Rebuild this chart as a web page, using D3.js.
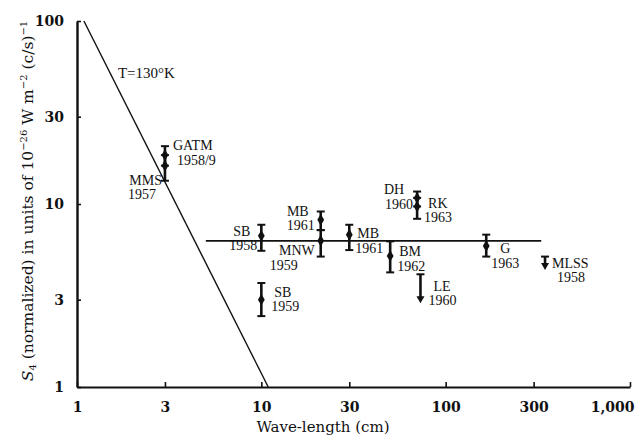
<!DOCTYPE html>
<html>
<head>
<meta charset="utf-8">
<script src="https://cdn.jsdelivr.net/npm/d3@7"></script>
<style>
  body { margin: 0; background: #fff; }
  svg text { fill: #111; }
</style>
</head>
<body>
<div id="chart"></div>
<script>
// measured sources (wave-length in cm, flux in 1e-26 W m^-2 (c/s)^-1)
const sourceNames = ["GATM", "MMS", "SB", "SB", "MB", "MNW", "MB", "BM", "DH", "RK", "G"];
const sourceYears = ["1958/9", "1957", "1958", "1959", "1961", "1959", "1961", "1962", "1960", "1963", "1963"];
const lambda = [3, 3, 10, 10, 21, 21, 30, 50, 70, 70, 166];
const flux = [18.5, 16.2, 6.7, 3.0, 8.2, 6.3, 6.8, 5.2, 10.8, 9.7, 5.9];
const fluxLo = [16.2, 13.4, 5.55, 2.44, 7.2, 5.16, 5.6, 4.23, 9.7, 8.3, 5.16];
const fluxHi = [20.7, 18.5, 7.7, 3.7, 9.1, 7.2, 7.7, 6.25, 11.7, 10.8, 6.8];

// upper limits
const limitNames = ["LE", "MLSS"];
const limitYears = ["1960", "1958"];
const limitLambda = [73, 346];
const limitTop = [4.13, 5.16];
const limitTip = [2.87, 4.36];

// T = 130 K black body line and mean flat line
const tLambda = [1.09, 10.9];
const tFlux = [100, 1];
const meanLambda = [5, 330];
const meanFlux = [6.28, 6.28];

const xTicks = [1, 3, 10, 30, 100, 300, 1000];
const yTicks = [1, 3, 10, 30, 100];

// label placement (pixels from the point): [dx, dy, anchor] for name and year
const labelPos = [
  [[8, -5, "start"], [12, 10, "start"]],
  [[-3, 19, "end"], [-9, 33, "end"]],
  [[-11, 0, "end"], [-4, 14, "end"]],
  [[13, -3, "start"], [10, 11, "start"]],
  [[-12, -4, "end"], [-6, 10, "end"]],
  [[-6, 14, "end"], [-23, 29, "end"]],
  [[8, 3, "start"], [6, 18, "start"]],
  [[9, 0, "start"], [7, 15, "start"]],
  [[-13, -4, "end"], [-4, 11, "end"]],
  [[11, 2, "start"], [7, 16, "start"]],
  [[14, 7, "start"], [5, 22, "start"]]
];
const limitLabelPos = [
  [[13, 17, "start"], [8, 31, "start"]],
  [[7, 11, "start"], [12, 25, "start"]]
];

const width = 638, height = 436;
const margin = {top: 21, right: 8, bottom: 49, left: 77};

const svg = d3.select("#chart")
  .append("svg")
  .attr("width", width)
  .attr("height", height);

let x = d3.scaleLog()
  .domain([1, 1000])
  .range([margin.left, width - margin.right]);

let y = d3.scaleLog()
  .domain([1, 100])
  .range([height - margin.bottom, margin.top]);

const tickFont = "'DejaVu Serif', serif";
const labFont = "'Liberation Serif', 'Times New Roman', serif";

// x axis
let xAxis = svg.append("g")
  .attr("transform", `translate(0,${y(1)})`)
  .call(d3.axisBottom(x).tickValues(xTicks).tickSize(-5).tickSizeOuter(0)
    .tickFormat(d3.format(",")).tickPadding(15));
xAxis.select(".domain").attr("stroke", "#111").attr("stroke-width", 2);
xAxis.selectAll(".tick line").attr("stroke", "#111").attr("stroke-width", 1.6);
xAxis.selectAll(".tick text")
  .style("font-family", tickFont).style("font-size", "14px").style("font-weight", "bold")
  .attr("fill", "#111");
xAxis.selectAll(".tick text").filter(d => d === 1000)
  .attr("text-anchor", "end").attr("dx", 4);

// y axis
let yAxis = svg.append("g")
  .attr("transform", `translate(${x(1)},0)`)
  .call(d3.axisLeft(y).tickValues(yTicks).tickSize(-4).tickSizeOuter(0)
    .tickFormat(d3.format("d")).tickPadding(13));
yAxis.select(".domain").attr("stroke", "#111").attr("stroke-width", 2.4);
yAxis.selectAll(".tick line").attr("stroke", "#111").attr("stroke-width", 1.6);
yAxis.selectAll(".tick text")
  .style("font-family", tickFont).style("font-size", "14px").style("font-weight", "bold")
  .attr("fill", "#111");

// lines
const line = d3.line().x(d => x(d[0])).y(d => y(d[1]));
svg.append("path")
  .attr("d", line(tLambda.map((l, i) => [l, tFlux[i]])))
  .attr("fill", "none").attr("stroke", "#111").attr("stroke-width", 1.4);
svg.append("path")
  .attr("d", line(meanLambda.map((l, i) => [l, meanFlux[i]])))
  .attr("fill", "none").attr("stroke", "#111").attr("stroke-width", 1.8);

svg.append("text")
  .attr("x", x(tLambda[0]) + 34).attr("y", y(100) + 57)
  .style("font-family", labFont).style("font-size", "15px")
  .text("T=130°K");

// two-line label: one text element, one tspan per line
function label(px, py, lp, lines) {
  let t = svg.append("text")
    .style("font-family", labFont).style("font-size", "14px");
  lines.forEach((s, k) => {
    t.append("tspan")
      .attr("x", px + lp[k][0]).attr("y", py + lp[k][1])
      .attr("text-anchor", lp[k][2])
      .text(s);
  });
}

// error bars
const pts = lambda.map((l, i) => ({l: l, v: flux[i], lo: fluxLo[i], hi: fluxHi[i], i: i}));
const cap = 4;
let bars = svg.append("g").selectAll("g").data(pts).enter().append("g");
bars.append("line")
  .attr("x1", d => x(d.l)).attr("x2", d => x(d.l))
  .attr("y1", d => y(d.hi)).attr("y2", d => y(d.lo))
  .attr("stroke", "#111").attr("stroke-width", 2.6);
bars.append("line")
  .attr("x1", d => x(d.l) - cap).attr("x2", d => x(d.l) + cap)
  .attr("y1", d => y(d.hi)).attr("y2", d => y(d.hi))
  .attr("stroke", "#111").attr("stroke-width", 2);
bars.append("line")
  .attr("x1", d => x(d.l) - cap).attr("x2", d => x(d.l) + cap)
  .attr("y1", d => y(d.lo)).attr("y2", d => y(d.lo))
  .attr("stroke", "#111").attr("stroke-width", 2);
bars.append("path")
  .attr("transform", d => `translate(${x(d.l)},${y(d.v)})`)
  .attr("d", d3.symbol(d3.symbolDiamond, 40))
  .attr("fill", "#111");

pts.forEach(d => {
  label(x(d.l), y(d.v), labelPos[d.i], [sourceNames[d.i], sourceYears[d.i]]);
});

// upper limits
limitLambda.forEach((l, i) => {
  const cx = x(l), y0 = y(limitTop[i]), y1 = y(limitTip[i]);
  svg.append("line")
    .attr("x1", cx).attr("x2", cx).attr("y1", y0).attr("y2", y1 - 5)
    .attr("stroke", "#111").attr("stroke-width", 2.6);
  svg.append("line")
    .attr("x1", cx - cap).attr("x2", cx + cap).attr("y1", y0).attr("y2", y0)
    .attr("stroke", "#111").attr("stroke-width", 2);
  svg.append("path")
    .attr("d", `M${cx - 4},${y1 - 7}L${cx + 4},${y1 - 7}L${cx},${y1}Z`)
    .attr("fill", "#111");
  label(cx, y0, limitLabelPos[i], [limitNames[i], limitYears[i]]);
});

// axis titles
svg.append("text")
  .attr("x", 323).attr("y", 432)
  .attr("text-anchor", "middle")
  .style("font-family", tickFont).style("font-size", "15px")
  .text("Wave-length (cm)");

let yt = svg.append("text")
  .attr("transform", `translate(33,${y(10) - 3}) rotate(-90)`)
  .attr("text-anchor", "middle")
  .style("font-family", tickFont).style("font-size", "15.5px");
yt.append("tspan").style("font-style", "italic").text("S");
yt.append("tspan").attr("dy", 3).style("font-size", "10px").text("4");
yt.append("tspan").attr("dy", -3).text(" (normalized) in units of 10");
yt.append("tspan").attr("dy", -6).style("font-size", "10px").text("−26");
yt.append("tspan").attr("dy", 6).text(" W m");
yt.append("tspan").attr("dy", -6).style("font-size", "10px").text("−2");
yt.append("tspan").attr("dy", 6).text(" (c/s)");
yt.append("tspan").attr("dy", -6).style("font-size", "10px").text("−1");
</script>
</body>
</html>
